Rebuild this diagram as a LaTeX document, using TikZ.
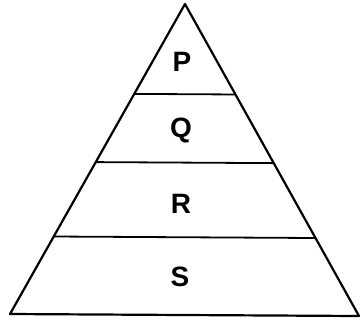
\documentclass[tikz,border=0pt]{standalone}
\usepackage{fontspec}
\setmainfont{Liberation Sans}
\usetikzlibrary{calc}
\begin{document}
\begin{tikzpicture}[x=1pt, y=-1pt, line join=round]
    \tikzset{
        layer/.style={font=\fontsize{28}{28}\selectfont\bfseries},
        side/.style={line width=2.2pt},
        level/.style={line width=1.8pt}
    }
    \useasboundingbox (0,0) rectangle (361,322);

    \coordinate (top) at (185,4);
    \coordinate (bl) at (10,314);
    \coordinate (br) at (359,316);

    \draw[side] (bl) -- (top) -- (br) -- cycle;

    \foreach \t/\n in {0.29/pq, 0.51/qr, 0.75/rs} {
        \coordinate (\n l) at ($(top)!\t!(bl)$);
        \coordinate (\n r) at ($(top)!\t!(br)$);
        \draw[level] (\n l) -- (\n r);
    }

    \node[layer] (p) at (182,62) {P};
    \node[layer] (q) at (181,130) {Q};
    \node[layer] (r) at (181,204) {R};
    \node[layer] (s) at (180,277) {S};
\end{tikzpicture}
\end{document}
